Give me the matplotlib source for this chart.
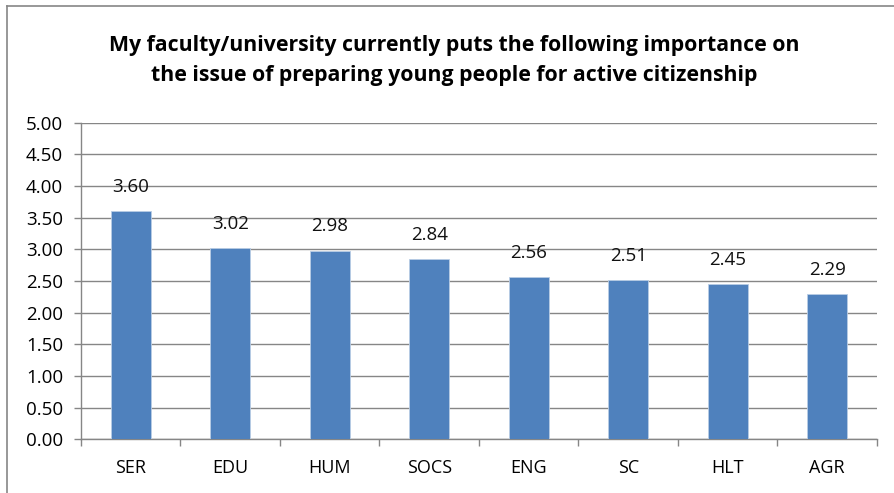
import matplotlib.pyplot as plt
from matplotlib.lines import Line2D

faculties = ['SER', 'EDU', 'HUM', 'SOCS', 'ENG', 'SC', 'HLT', 'AGR']
importance = [3.60, 3.02, 2.98, 2.84, 2.56, 2.51, 2.45, 2.29]
y_ticks = [0.0, 0.5, 1.0, 1.5, 2.0, 2.5, 3.0, 3.5, 4.0, 4.5, 5.0]

plt.rcParams['font.family'] = ['Open Sans', 'DejaVu Sans']

fig = plt.figure(figsize=(8.95, 4.93), dpi=100)
ax = fig.add_axes([81 / 895, 1 - 439.3 / 493, (877 - 81) / 895, (439.3 - 122.7) / 493])

x = range(len(faculties))
bars = ax.bar(x, importance, width=0.4, color='#4F81BD', edgecolor='#B9CDE5',
              linewidth=0.6, zorder=3)

for xi, v in zip(x, importance):
    ax.annotate(f'{v:.2f}', (xi, v), xytext=(0, 11), textcoords='offset points',
                ha='center', va='bottom', fontsize=13.5, color='#111111')

ax.set_xlim(-0.5, len(faculties) - 0.5)
ax.set_ylim(0, 5)
ax.set_yticks(y_ticks)
ax.set_yticklabels([f'{t:.2f}' for t in y_ticks], fontsize=13.5)
ax.yaxis.grid(True, color='#868686', linewidth=1, zorder=0)
ax.set_axisbelow(True)

ax.set_xticks(x)
ax.set_xticklabels(faculties, fontsize=13)
ax.tick_params(axis='x', length=0, pad=14)
ax.set_xticks([i - 0.5 for i in range(len(faculties) + 1)], minor=True)
ax.tick_params(axis='x', which='minor', length=5, color='#868686', width=1)
ax.tick_params(axis='y', length=5, color='#868686', width=1, pad=8)

for s in ['top', 'right']:
    ax.spines[s].set_visible(False)
for s in ['left', 'bottom']:
    ax.spines[s].set_color('#868686')
    ax.spines[s].set_linewidth(1)

fig.text(0.507, 1 - 45 / 493, 'My faculty/university currently puts the following importance on',
         ha='center', va='center', fontsize=15.3, fontweight='bold')
fig.text(0.507, 1 - 75 / 493, 'the issue of preparing young people for active citizenship',
         ha='center', va='center', fontsize=15.3, fontweight='bold')

fig.add_artist(Line2D([7 / 895, 7 / 895], [0, 1 - 6 / 493], color='#868686', linewidth=1.2))
fig.add_artist(Line2D([7 / 895, 1], [1 - 6 / 493, 1 - 6 / 493], color='#868686', linewidth=1.2))

plt.savefig('out.png')
